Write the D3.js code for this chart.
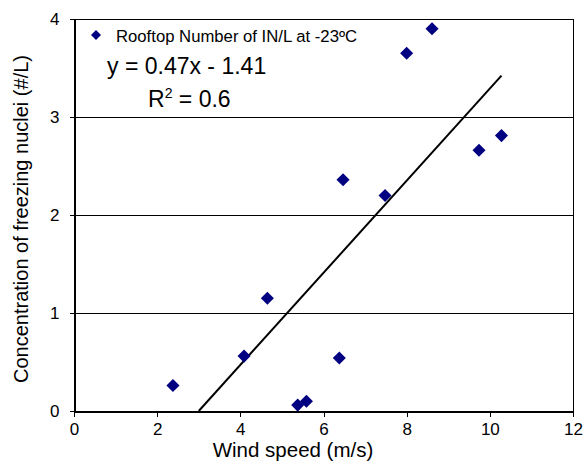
<!DOCTYPE html>
<html>
<head>
<meta charset="utf-8">
<script src="https://cdn.jsdelivr.net/npm/d3@7"></script>
<style>
  body { margin: 0; background: #fff; }
  text { font-family: "Liberation Sans", Arial, sans-serif; }
</style>
</head>
<body>
<svg id="chart"></svg>
<script>
// wind speed (m/s) vs IN concentration (#/L)
var windSpeed = [2.38, 4.09, 4.65, 5.38, 5.59, 6.38, 6.47, 7.48, 8.0, 8.61, 9.74, 10.28];
var concentration = [0.26, 0.56, 1.15, 0.06, 0.10, 0.54, 2.36, 2.20, 3.65, 3.90, 2.66, 2.81];
var xTicks = [0, 2, 4, 6, 8, 10, 12];
var yTicks = [0, 1, 2, 3, 4];
var slope = 0.47, intercept = -1.41;

var W = 584, H = 466;
var m = { left: 74, right: 11, top: 19, bottom: 55 };

var svg = d3.select('#chart')
    .attr("width", W)
    .attr("height", H);

var x = d3.scaleLinear().domain([0, 12]).range([m.left, W - m.right]);
var y = d3.scaleLinear().domain([0, 4]).range([H - m.bottom, m.top]);

// gridlines
svg.selectAll(".grid")
    .data(yTicks.filter(function (d) { return d > 0; }))
    .enter()
    .append("line")
    .attr("x1", x(0)).attr("x2", x(12))
    .attr("y1", function (d) { return y(d) + 0.5; })
    .attr("y2", function (d) { return y(d) + 0.5; })
    .attr("stroke", "#000").attr("stroke-width", 1)
    .attr("shape-rendering", "crispEdges");

// right border
svg.append("line")
    .attr("x1", x(12) + 0.5).attr("x2", x(12) + 0.5)
    .attr("y1", y(0)).attr("y2", y(4))
    .attr("stroke", "#000")
    .attr("shape-rendering", "crispEdges");

var xAxis = svg.append("g")
    .attr("transform", "translate(0," + (y(0) + 0.5) + ")")
    .call(d3.axisBottom(x).tickValues(xTicks).tickSize(5).tickSizeOuter(0).tickPadding(6)
        .tickFormat(d3.format("d")));
var yAxis = svg.append("g")
    .attr("transform", "translate(" + (x(0) + 0.5) + ",0)")
    .call(d3.axisLeft(y).tickValues(yTicks).tickSize(5).tickSizeOuter(0).tickPadding(10)
        .tickFormat(d3.format("d")));

[xAxis, yAxis].forEach(function (g) {
    g.attr("shape-rendering", "crispEdges");
    g.select(".domain").attr("stroke", "#000").attr("stroke-width", 1.5);
    g.selectAll(".tick line").attr("stroke", "#000");
    g.selectAll(".tick text")
        .attr("fill", "#000")
        .style("font-size", "17px")
        .style("font-family", "Liberation Sans, Arial, sans-serif");
});

// trend line, clipped at y = 0
var xStart = -intercept / slope;
var xEnd = d3.max(windSpeed);
svg.append("line")
    .attr("x1", x(xStart)).attr("y1", y(slope * xStart + intercept))
    .attr("x2", x(xEnd)).attr("y2", y(slope * xEnd + intercept))
    .attr("stroke", "#000").attr("stroke-width", 2);

var diamond = d3.symbol().type(d3.symbolSquare).size(85);

svg.selectAll(".pt")
    .data(windSpeed)
    .enter()
    .append("path")
    .attr("d", diamond)
    .attr("fill", "#000080")
    .attr("transform", function (d, i) {
        return "translate(" + x(d) + "," + y(concentration[i]) + ") rotate(45)";
    });

// legend + equation
svg.append("path")
    .attr("d", d3.symbol().type(d3.symbolSquare).size(50))
    .attr("fill", "#000080")
    .attr("transform", "translate(96,35) rotate(45)");
svg.append("text")
    .attr("x", 116).attr("y", 42)
    .style("font-size", "16.7px")
    .text("Rooftop Number of IN/L at -23ºC");

svg.append("text")
    .attr("x", 107).attr("y", 74)
    .style("font-size", "23px")
    .text("y = 0.47x - 1.41");

var r2 = svg.append("text")
    .attr("x", 148).attr("y", 107)
    .style("font-size", "23px");
r2.append("tspan").text("R");
r2.append("tspan").attr("dy", -9).style("font-size", "14px").text("2");
r2.append("tspan").attr("dy", 9).text(" = 0.6");

// axis titles
svg.append("text")
    .attr("x", 293).attr("y", 457)
    .attr("text-anchor", "middle")
    .style("font-size", "20.5px")
    .text("Wind speed (m/s)");

svg.append("text")
    .attr("transform", "translate(28,219) rotate(-90)")
    .attr("text-anchor", "middle")
    .style("font-size", "20px")
    .text("Concentration of freezing nuclei (#/L)");
</script>
</body>
</html>
